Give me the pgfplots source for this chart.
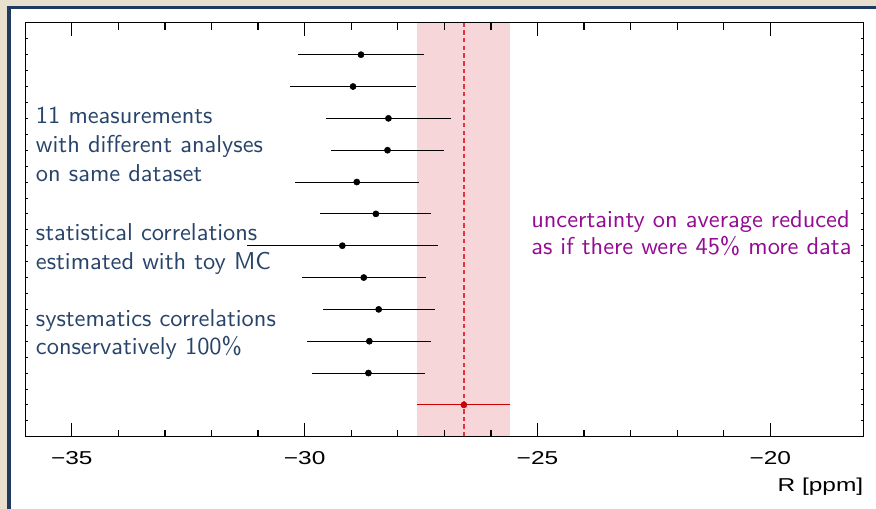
\documentclass[border=0pt]{standalone}
\usepackage{pgfplots}
\usepackage{pgfplotstable}
\pgfplotsset{compat=1.18}
\usepackage{fontspec}
\newfontfamily\helv[FakeStretch=1.31]{Liberation Sans}
\newfontfamily\annot{lmsans10-regular.otf}
\newcommand{\axisfont}{\helv\fontsize{14pt}{16pt}\selectfont}
\newcommand{\notefont}{\annot\fontsize{18.3pt}{21.75pt}\selectfont}

\definecolor{slidebg}{RGB}{233,223,207}
\definecolor{framebl}{RGB}{31,58,96}
\definecolor{bandpink}{RGB}{246,214,217}
\definecolor{avgred}{RGB}{204,0,0}
\definecolor{dashred}{RGB}{226,52,62}
\definecolor{notetext}{RGB}{40,68,106}
\definecolor{notepurple}{RGB}{148,12,148}

% individual analyses: central value, row, symmetric uncertainty
\pgfplotstableread{
x       y   err
-28.79  12  1.36
-28.96  11  1.36
-28.20  10  1.34
-28.22  9   1.21
-28.88  8   1.33
-28.47  7   1.19
-29.19  6   2.05
-28.73  5   1.33
-28.41  4   1.20
-28.61  3   1.33
-28.63  2   1.21
}\measurements

% combined average
\pgfplotstableread{
x       y   err
-26.58  1   1.00
}\average

\begin{document}
\begin{tikzpicture}
\useasboundingbox (0,0) rectangle (657pt,381.75pt);
\clip (0,0) rectangle (657pt,381.75pt);
% slide background and frame
\fill[slidebg] (0,0) rectangle (657pt,381.75pt);
\fill[framebl] (5.25pt,-10pt) rectangle (670pt,377.6pt);
\fill[white] (7.9pt,-10pt) rectangle (670pt,375pt);

\begin{axis}[
  at={(18.9pt,54.2pt)}, anchor=south west,
  scale only axis, width=628.7pt, height=310.4pt,
  xmin=-36, xmax=-18, ymin=0, ymax=13,
  axis line style={line width=0.9pt},
  tick style={line width=0.9pt, black},
  tick align=inside,
  xtick={-35,-30,-25,-20},
  xticklabels={−35,−30,−25,−20},
  minor x tick num=4,
  xtick pos=both,
  major tick length=10pt, minor tick length=5pt,
  ytick={0.5,1,...,12.5},
  yticklabels={},
  ytick pos=both,
  ytick style={/pgfplots/major tick length=2pt, line width=0.6pt},
  xticklabel style={font=\axisfont, anchor=base, inner sep=0pt, yshift=-20.5pt},
  xlabel={R [ppm]},
  xlabel style={font=\axisfont, at={(rel axis cs:1,0)}, anchor=base east, inner sep=0pt, yshift=-41.3pt},
  axis on top,
  clip=false,
]
% one-sigma band of the average
\addplot[draw=none, fill=bandpink] coordinates {(-27.58,0) (-27.58,13) (-25.58,13) (-25.58,0)} -- cycle;
% central value of the average
\addplot[color=dashred, line width=1.2pt, dash pattern=on 3.4pt off 2.4pt] coordinates {(-26.58,0) (-26.58,13)};

\addplot[only marks, mark=*, mark size=2.3pt, black,
  error bars/.cd, x dir=both, x explicit, error mark=none,
  error bar style={line width=0.75pt, black}]
  table[x=x, y=y, x error=err] {\measurements};

\addplot[only marks, mark=*, mark size=2.3pt, avgred,
  error bars/.cd, x dir=both, x explicit, error mark=none,
  error bar style={line width=0.75pt, avgred}]
  table[x=x, y=y, x error=err] {\average};
\end{axis}

\begin{scope}[every node/.style={inner sep=0pt, anchor=base west, font=\notefont}]
\node[text=notetext] at (26.8pt,288.75pt) {11 measurements};
\node[text=notetext] at (26.8pt,267.2pt) {with different analyses};
\node[text=notetext] at (26.8pt,245.5pt) {on same dataset};
\node[text=notetext] at (26.8pt,201.0pt) {statistical correlations};
\node[text=notetext] at (26.8pt,179.8pt) {estimated with toy MC};
\node[text=notetext] at (26.8pt,136.7pt) {systematics correlations};
\node[text=notetext] at (26.8pt,115.5pt) {conservatively 100\%};
\node[text=notepurple] at (398.25pt,211.3pt) {uncertainty on average reduced};
\node[text=notepurple] at (398.25pt,190.5pt) {as if there were 45\% more data};
\end{scope}
\end{tikzpicture}
\end{document}
